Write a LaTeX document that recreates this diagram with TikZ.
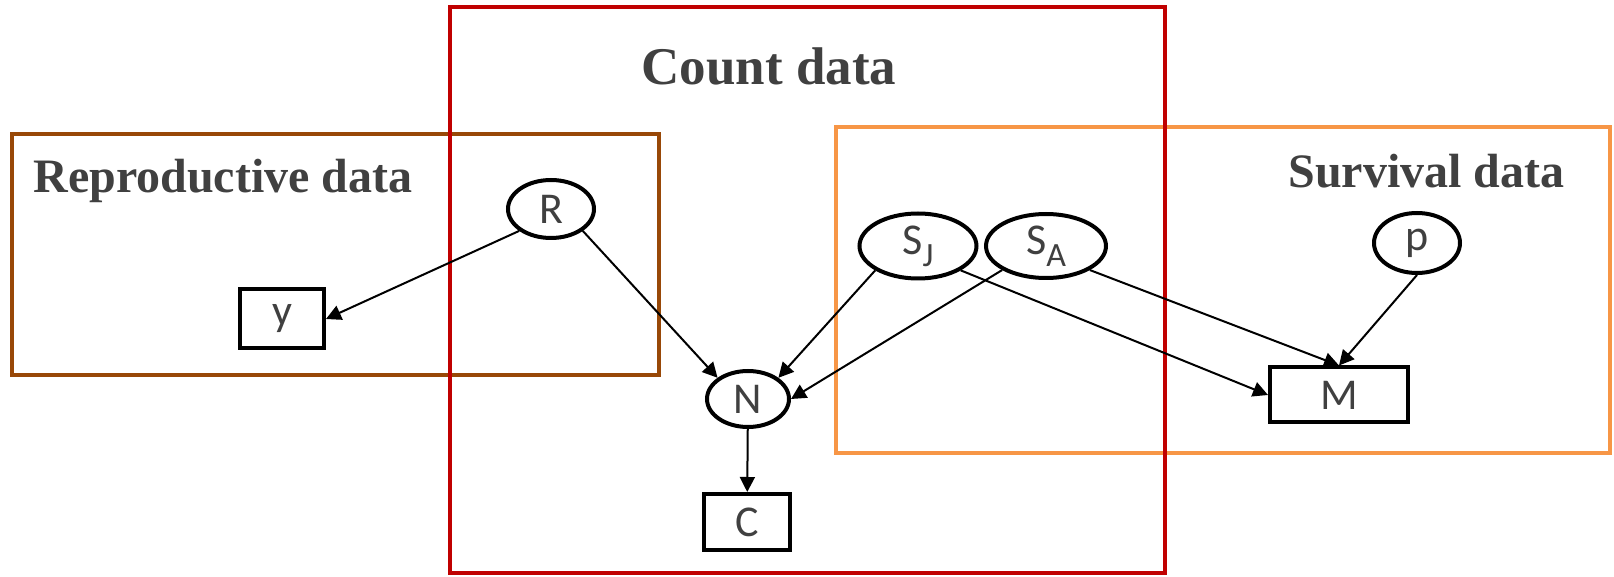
\documentclass[tikz,border=0pt]{standalone}
\usepackage{fontspec}
\setmainfont{Liberation Serif}
\newfontfamily\lblfont{Carlito}
\usetikzlibrary{arrows.meta,shapes.geometric}
\definecolor{countred}{HTML}{C00000}
\definecolor{reprobrown}{HTML}{984807}
\definecolor{survorange}{HTML}{F79646}
\definecolor{textgray}{HTML}{404040}
\tikzset{
    var/.style = {
        draw, ellipse,
        line width=2pt,
        fill=white,
        inner sep=0pt,
        text=textgray,
        font=\lblfont\fontsize{22}{22}\selectfont,
        },
    obs/.style = {
        draw, rectangle,
        line width=2pt,
        fill=white,
        inner sep=0pt,
        text=textgray,
        font=\lblfont\fontsize{22}{22}\selectfont,
        },
    frame/.style = {
        line width=2pt,
        },
    title/.style = {
        text=textgray,
        inner sep=0pt,
        font=\fontsize{24}{28}\selectfont\bfseries,
        },
    link/.style = {
        line width=1pt,
        -{Triangle[length=7.5pt,width=7.5pt]},
        },
}
\newcommand{\lowsub}[1]{\raisebox{-6pt}{\fontsize{17}{17}\selectfont #1}}

\begin{document}
\begin{tikzpicture}[x=0.5pt,y=-0.5pt]
            \useasboundingbox (0,0) rectangle (1614,577);

            % data frames
            \draw[frame, reprobrown] (12,134) rectangle (659,375);
            \draw[frame, survorange] (836,127) rectangle (1610,453);
            \draw[frame, countred] (450,7) rectangle (1165,573);

            \node[title, anchor=base, font=\fontsize{26.5}{30}\selectfont\bfseries] (count) at (769,85) {Count data};
            \node[title, anchor=base west] (repro) at (33,193) {Reproductive data};
            \node[title, anchor=base west] (surv) at (1288,188) {Survival data};

            % parameters and data
            \node[var, minimum width=43pt, minimum height=29pt] (R) at (551,209) {R};
            \node[obs, minimum width=42pt, minimum height=29.5pt] (y) at (282,319) {y};
            \node[var, minimum width=41pt, minimum height=28pt] (N) at (748,399) {N};
            \node[obs, minimum width=43pt, minimum height=28pt] (C) at (747,522) {C};
            \node[var, minimum width=58.5pt, minimum height=32.5pt] (SJ) at (918,246) {S\lowsub{J}};
            \node[var, minimum width=60pt, minimum height=32pt] (SA) at (1046,246) {S\lowsub{A}};
            \node[var, minimum width=43pt, minimum height=30pt] (p) at (1417,243) {p};
            \node[obs, minimum width=69pt, minimum height=27.5pt] (M) at (1339,395) {M};

            \draw[link] (R.south west) -- (y.east);
            \draw[link] (R.south east) -- (N.north west);
            \draw[link] (SJ.south west) -- (N.north east);
            \draw[link] (SA.south west) -- (N.east);
            \draw[link] (SJ.south east) -- (M.west);
            \draw[link] (SA.south east) -- (M.north);
            \draw[link] (p.south) -- (M.north);
            \draw[link] (N) -- (C);
\end{tikzpicture}
\end{document}
